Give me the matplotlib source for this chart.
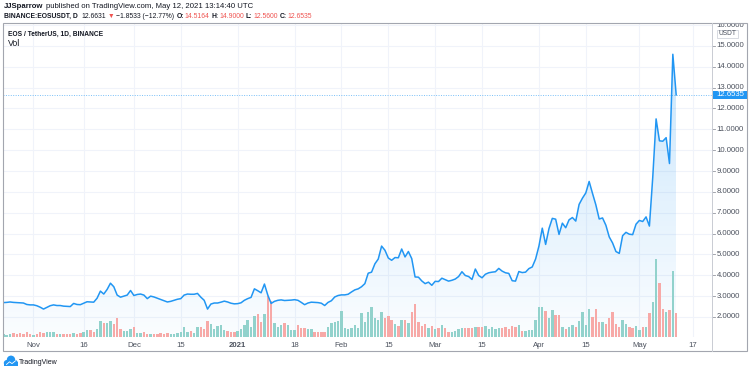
import numpy as np
import pandas as pd
import matplotlib
matplotlib.use("Agg")
import matplotlib.pyplot as plt
import matplotlib.dates as mdates
import matplotlib.transforms as mtransforms
from matplotlib.patches import Polygon, Rectangle, Circle

plt.rcParams['font.family'] = ['Liberation Sans', 'DejaVu Sans']

# ---------------- data ----------------
start_date = '2020-10-23'
close_oct = [2.69, 2.70, 2.72, 2.70, 2.69, 2.68, 2.67, 2.60, 2.58]
close_nov = [2.58, 2.54, 2.47, 2.38, 2.46, 2.54, 2.58, 2.55, 2.55, 2.52,
             2.51, 2.50, 2.65, 2.60, 2.59, 2.66, 2.73, 2.72, 2.71, 2.90,
             3.24, 3.10, 3.32, 3.62, 3.45, 3.05, 2.95, 3.00, 3.05, 3.27]
close_dec = [3.03, 3.08, 3.10, 3.05, 2.88, 3.00, 2.96, 2.90, 2.84, 2.78,
             2.72, 2.75, 2.80, 2.85, 2.88, 3.05, 3.10, 3.09, 3.09, 3.13,
             2.95, 2.80, 2.38, 2.62, 2.67, 2.67, 2.71, 2.76, 2.72, 2.66, 2.63]
close_jan = [2.64, 2.68, 2.80, 2.88, 2.94, 3.35, 3.26, 3.16, 3.58, 3.05,
             2.65, 2.75, 2.80, 2.82, 2.79, 2.80, 2.81, 2.83, 2.80, 2.70,
             2.59, 2.67, 2.71, 2.70, 2.69, 2.66, 2.55, 2.70, 2.78, 2.96, 3.03]
close_feb = [3.06, 3.06, 3.09, 3.20, 3.30, 3.35, 3.45, 3.60, 4.10, 4.15,
             4.55, 4.78, 5.40, 5.20, 4.83, 4.72, 4.85, 4.84, 5.26, 4.88,
             5.14, 4.80, 3.92, 3.91, 3.73, 3.60, 3.67, 3.52]
close_mar = [3.71, 3.70, 3.86, 3.79, 3.72, 3.76, 3.82, 3.94, 4.17, 3.99,
             3.94, 3.80, 4.30, 3.99, 3.88, 4.05, 4.12, 4.15, 4.17, 4.33,
             4.20, 4.12, 4.09, 3.74, 3.72, 4.18, 4.13, 4.15, 4.32, 4.40, 4.78]
close_apr = [5.40, 6.26, 5.48, 6.24, 6.73, 6.69, 5.96, 6.50, 6.28, 6.66,
             6.77, 6.60, 7.40, 7.70, 7.95, 8.50, 7.93, 7.38, 6.70, 6.75,
             6.40, 5.84, 5.55, 5.14, 5.05, 5.90, 6.06, 5.97, 5.95, 6.45]
close_may = [6.63, 6.58, 6.80, 6.36, 8.70, 11.50, 10.45, 10.43, 10.60, 9.36,
             14.60, 12.6535]

vol_oct = [3, 2, 3, 4, 3, 4, 3, 5, 3]
vol_nov = [2, 3, 5, 4, 5, 5, 5, 3, 3, 3, 3, 3, 4, 3, 4, 5, 7, 7, 5, 8,
           16, 14, 14, 16, 13, 19, 8, 6, 6, 8]
vol_dec = [10, 4, 4, 5, 3, 3, 3, 3, 4, 3, 4, 3, 3, 4, 5, 10, 5, 6, 4, 10,
           10, 8, 16, 13, 8, 11, 12, 7, 6, 5, 5]
vol_jan = [6, 8, 12, 17, 10, 21, 23, 15, 23, 41, 36, 14, 10, 12, 14, 12, 7, 7,
           12, 9, 9, 8, 8, 5, 5, 5, 5, 10, 14, 15, 16]
vol_feb = [26, 9, 8, 9, 12, 9, 24, 15, 25, 30, 19, 17, 25, 19, 21, 17, 13, 11,
           17, 17, 14, 25, 33, 15, 11, 13, 9, 11]
vol_mar = [8, 9, 12, 9, 5, 5, 6, 8, 9, 9, 9, 9, 10, 10, 10, 11, 8, 10, 8, 9,
           9, 10, 8, 11, 10, 12, 6, 6, 7, 7, 17]
vol_apr = [30, 30, 26, 19, 27, 22, 22, 10, 8, 10, 12, 10, 16, 25, 12, 28, 20,
           28, 15, 15, 13, 19, 25, 13, 10, 17, 13, 10, 9, 11]
vol_may = [7, 10, 10, 24, 35, 78, 54, 28, 25, 27, 66, 24]

tick_dates = ['2020-11-01', '2020-11-16', '2020-12-01', '2020-12-15',
              '2021-01-01', '2021-01-18', '2021-02-01', '2021-02-15',
              '2021-03-01', '2021-03-15', '2021-04-01', '2021-04-15',
              '2021-05-01', '2021-05-17']
tick_labels = ['Nov', '16', 'Dec', '15', '2021', '18', 'Feb', '15',
               'Mar', '15', 'Apr', '15', 'May', '17']
price_ticks = list(range(2, 17))
last_price = 12.6535

close = np.array(close_oct + close_nov + close_dec + close_jan + close_feb +
                 close_mar + close_apr + close_may)
volume = np.array(vol_oct + vol_nov + vol_dec + vol_jan + vol_feb +
                  vol_mar + vol_apr + vol_may, dtype=float)
dates = pd.date_range(start_date, periods=len(close), freq='D')
xd = mdates.date2num(dates)
up = np.r_[True, np.diff(close) >= 0]

# ---------------- layout ----------------
W, H = 750, 373
L, R, T, B = 3, 712, 23, 337
BLUE = '#2196f3'
TXT = '#131722'
AX_TXT = '#4c525e'
RED = '#ef5350'
GREEN_VOL = '#92d2cc'
RED_VOL = '#f7a9a7'

fig = plt.figure(figsize=(W / 100, H / 100), dpi=100)
fig.patch.set_facecolor('white')
rect = [L / W, 1 - B / H, (R - L) / W, (B - T) / H]

xlim = (xd[0] - 0.1, xd[0] + 211.7)
ylim = (1.04, 16.10)

ax = fig.add_axes(rect, zorder=1)
axv = fig.add_axes(rect, zorder=2)
axl = fig.add_axes(rect, zorder=3)
for a in (ax, axv, axl):
    a.set_xlim(*xlim)
    for s in a.spines.values():
        s.set_visible(False)
    a.set_xticks([])
    a.set_yticks([])
axv.patch.set_alpha(0)
axl.patch.set_alpha(0)
ax.set_ylim(*ylim)
axl.set_ylim(*ylim)
axv.set_ylim(0, volume.max() / 0.248)

# grid
tick_x = mdates.date2num(pd.to_datetime(tick_dates))
for tx in tick_x:
    ax.axvline(tx, color='#f0f3fa', lw=0.8, zorder=0)
for p in price_ticks:
    ax.axhline(p, color='#f0f3fa', lw=0.8, zorder=0)

# gradient area fill
n = 256
img = np.zeros((n, 1, 4))
img[..., 0] = 33 / 255
img[..., 1] = 150 / 255
img[..., 2] = 243 / 255
img[..., 3] = np.linspace(0.02, 0.24, n)[:, None]
im = ax.imshow(img, extent=[xd[0], xd[-1], ylim[0], close.max()],
               origin='lower', aspect='auto', interpolation='bilinear', zorder=1)
poly = Polygon(np.column_stack([np.r_[xd[0], xd, xd[-1]],
                                np.r_[ylim[0], close, ylim[0]]]),
               closed=True, facecolor='none', edgecolor='none',
               transform=ax.transData)
ax.add_patch(poly)
im.set_clip_path(poly)
ax.set_xlim(*xlim)
ax.set_ylim(*ylim)

# volume
axv.bar(xd, volume, width=0.72, color=np.where(up, GREEN_VOL, RED_VOL),
        linewidth=0)

# price line
axl.plot(xd, close, color=BLUE, lw=1.1, solid_joinstyle='round')
axl.axhline(last_price, color=BLUE, lw=0.7, ls=(0, (1, 1.5)), alpha=0.6)

# ---------------- overlay (pixels) ----------------
axo = fig.add_axes([0, 0, 1, 1], zorder=10)
axo.set_xlim(0, W)
axo.set_ylim(H, 0)
axo.axis('off')
axo.patch.set_alpha(0)

# time axis labels
bt_x = mtransforms.blended_transform_factory(ax.transData, axo.transData)
for tx, lab in zip(tick_x, tick_labels):
    axo.text(tx, 345.5, lab, transform=bt_x, ha='center', va='center',
             fontsize=5.6, color=AX_TXT,
             fontweight='bold' if lab == '2021' else 'normal')

# price axis labels
bt_y = mtransforms.blended_transform_factory(axo.transData, ax.transData)
for p in price_ticks:
    axo.text(716.5, p, f'{p:.4f}', transform=bt_y, ha='left',
             va='center', fontsize=5.6, color=AX_TXT, zorder=2)
    if p <= 15:
        axo.plot([712, 715], [p, p], transform=bt_y, color='#9598a1', lw=0.6)

# mask for labels cut by the top of the pane
axo.add_patch(Rectangle((712.5, 0), 37.5, 23, facecolor='white',
                        edgecolor='none', zorder=3))

# frame
axo.add_patch(Rectangle((3, 23), 744, 328, fill=False, edgecolor='#a3a6af',
                        lw=0.8, zorder=4))
axo.plot([712, 712], [23, 351], color='#c9ccd3', lw=0.7, zorder=4)

# USDT box
axo.add_patch(Rectangle((717, 29.5), 21, 8.5, facecolor='white',
                        edgecolor='#d1d4dc', lw=0.6, zorder=5))
axo.text(727.5, 33.8, 'USDT', ha='center', va='center', fontsize=4.8,
         color=AX_TXT, zorder=6)

# last price box
yp = H - ax.transData.transform((xd[0], last_price))[1]
axo.add_patch(Rectangle((712.5, yp - 4.2), 34, 8.4, facecolor=BLUE,
                        edgecolor='none', zorder=5))
axo.text(716.5, yp, f'{last_price:.4f}', ha='left', va='center',
         fontsize=5.6, color='white', zorder=6)

renderer = fig.canvas.get_renderer()


def text_run(x0, y, parts, target_w, size=8):
    def draw(sz):
        probe1 = axo.text(0, 0, 'a a', fontsize=sz)
        probe2 = axo.text(0, 0, 'aa', fontsize=sz)
        sp = (probe1.get_window_extent(renderer).width -
              probe2.get_window_extent(renderer).width)
        probe1.remove()
        probe2.remove()
        arts = []
        xc = x0
        for s, kw, nsp in parts:
            t = axo.text(xc, y, s, fontsize=sz, va='center', ha='left', **kw)
            xc += t.get_window_extent(renderer).width + nsp * sp
            arts.append(t)
        return arts, xc - x0
    arts, w = draw(size)
    for a in arts:
        a.remove()
    arts, w = draw(size * target_w / w)
    return arts


dark = dict(color=TXT)
darkb = dict(color=TXT, fontweight='bold')
red = dict(color=RED)
text_run(4, 6.5, [('JJSparrow', darkb, 1),
                  ('published on TradingView.com, May 12, 2021 13:14:40 UTC',
                   dark, 0)], 249)
text_run(4, 16.5, [('BINANCE:EOSUSDT, D', darkb, 2),
                   ('12.6631', dark, 1),
                   ('\u25bc', red, 1),
                   ('\u22121.8533 (\u221212.77%)', dark, 1),
                   ('O:', darkb, 0.4), ('14.5164', red, 1),
                   ('H:', darkb, 0.4), ('14.9000', red, 1),
                   ('L:', darkb, 0.4), ('12.5600', red, 1),
                   ('C:', darkb, 0.4), ('12.6535', red, 0)], 306)
text_run(8, 34, [('EOS / TetherUS, 1D, BINANCE', dict(color=TXT,
                                                       fontweight='semibold'),
                  0)], 95)
axo.text(8, 43.5, 'Vol', fontsize=6.3, va='center', ha='left', color=TXT)

# footer logo
for cx, cy, r in [(6.8, 363.0, 3.0), (11.0, 359.8, 4.2), (15.0, 362.8, 2.8)]:
    axo.add_patch(Circle((cx, cy), r, facecolor=BLUE, edgecolor='none'))
axo.add_patch(Rectangle((3.8, 362.2), 14.0, 3.8, facecolor=BLUE,
                        edgecolor='none'))
axo.plot([6.5, 9.5, 12.0, 15.5], [364.5, 361.8, 363.6, 360.8], color='white',
         lw=0.6, zorder=3)
text_run(19, 362.0, [('TradingView', dict(color=TXT), 0)], 39)

fig.savefig('out.png', dpi=100, facecolor='white')
